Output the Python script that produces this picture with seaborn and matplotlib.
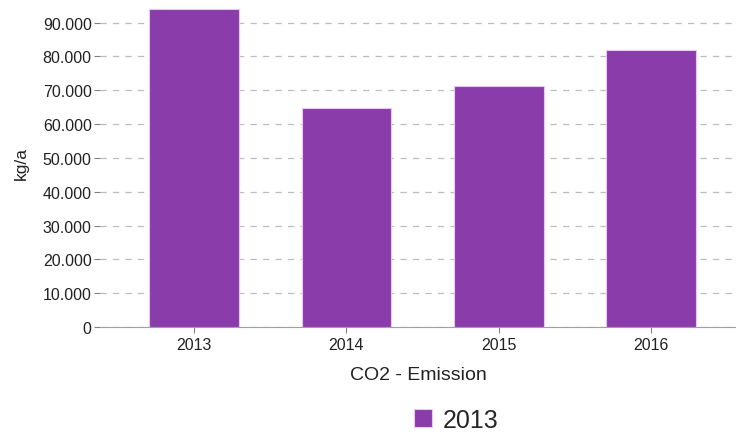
import pandas as pd
import matplotlib
matplotlib.use('Agg')
import matplotlib.pyplot as plt
from matplotlib.ticker import FuncFormatter
import seaborn as sns

# data
years = ['2013', '2014', '2015', '2016']
emission = [94100, 64700, 71300, 81800]
series_name = '2013'

df = pd.DataFrame({'year': years, 'kg': emission, 'series': series_name})

sns.set_style('white')
plt.rcParams['font.family'] = ['Liberation Sans', 'DejaVu Sans']

fig = plt.figure(figsize=(7.36, 4.35), dpi=100)
ax = fig.add_axes([100 / 736, 1 - 328 / 435, 636 / 736, 328 / 435])

sns.barplot(data=df, x='year', y='kg', hue='series', palette=['#8A3DAA'],
            width=0.59, edgecolor='#E6C8F0', linewidth=0.8, saturation=1,
            ax=ax, zorder=3)

ax.set_xlim(-0.62, 3.56)
ax.set_ylim(0, 97000)
ax.set_yticks(range(0, 90001, 10000))
ax.yaxis.set_major_formatter(FuncFormatter(lambda v, p: f'{int(v):,}'.replace(',', '.')))
ax.grid(axis='y', color='#BDBDBD', linestyle=(0, (5, 5)), linewidth=0.9, zorder=0)

for s in ['top', 'right', 'left']:
    ax.spines[s].set_visible(False)
ax.spines['bottom'].set_color('#A0A0A0')
ax.tick_params(axis='y', left=True, length=4.5, color='#808080', labelsize=11.5,
               labelcolor='#222222', pad=1.5)
ax.tick_params(axis='x', bottom=True, length=4, color='#808080', labelsize=11.5,
               labelcolor='#222222', pad=3)

ax.set_xlabel('CO2 - Emission', fontsize=14, labelpad=10.5, color='#222222')
ax.set_ylabel('kg/a', fontsize=12.5, labelpad=10, color='#222222')

sns.move_legend(ax, 'center', bbox_to_anchor=(0.56, -0.283), frameon=False,
                title=None, fontsize=18, handlelength=0.72, handleheight=0.72,
                handletextpad=0.4)

fig.savefig('out.png', dpi=100)
